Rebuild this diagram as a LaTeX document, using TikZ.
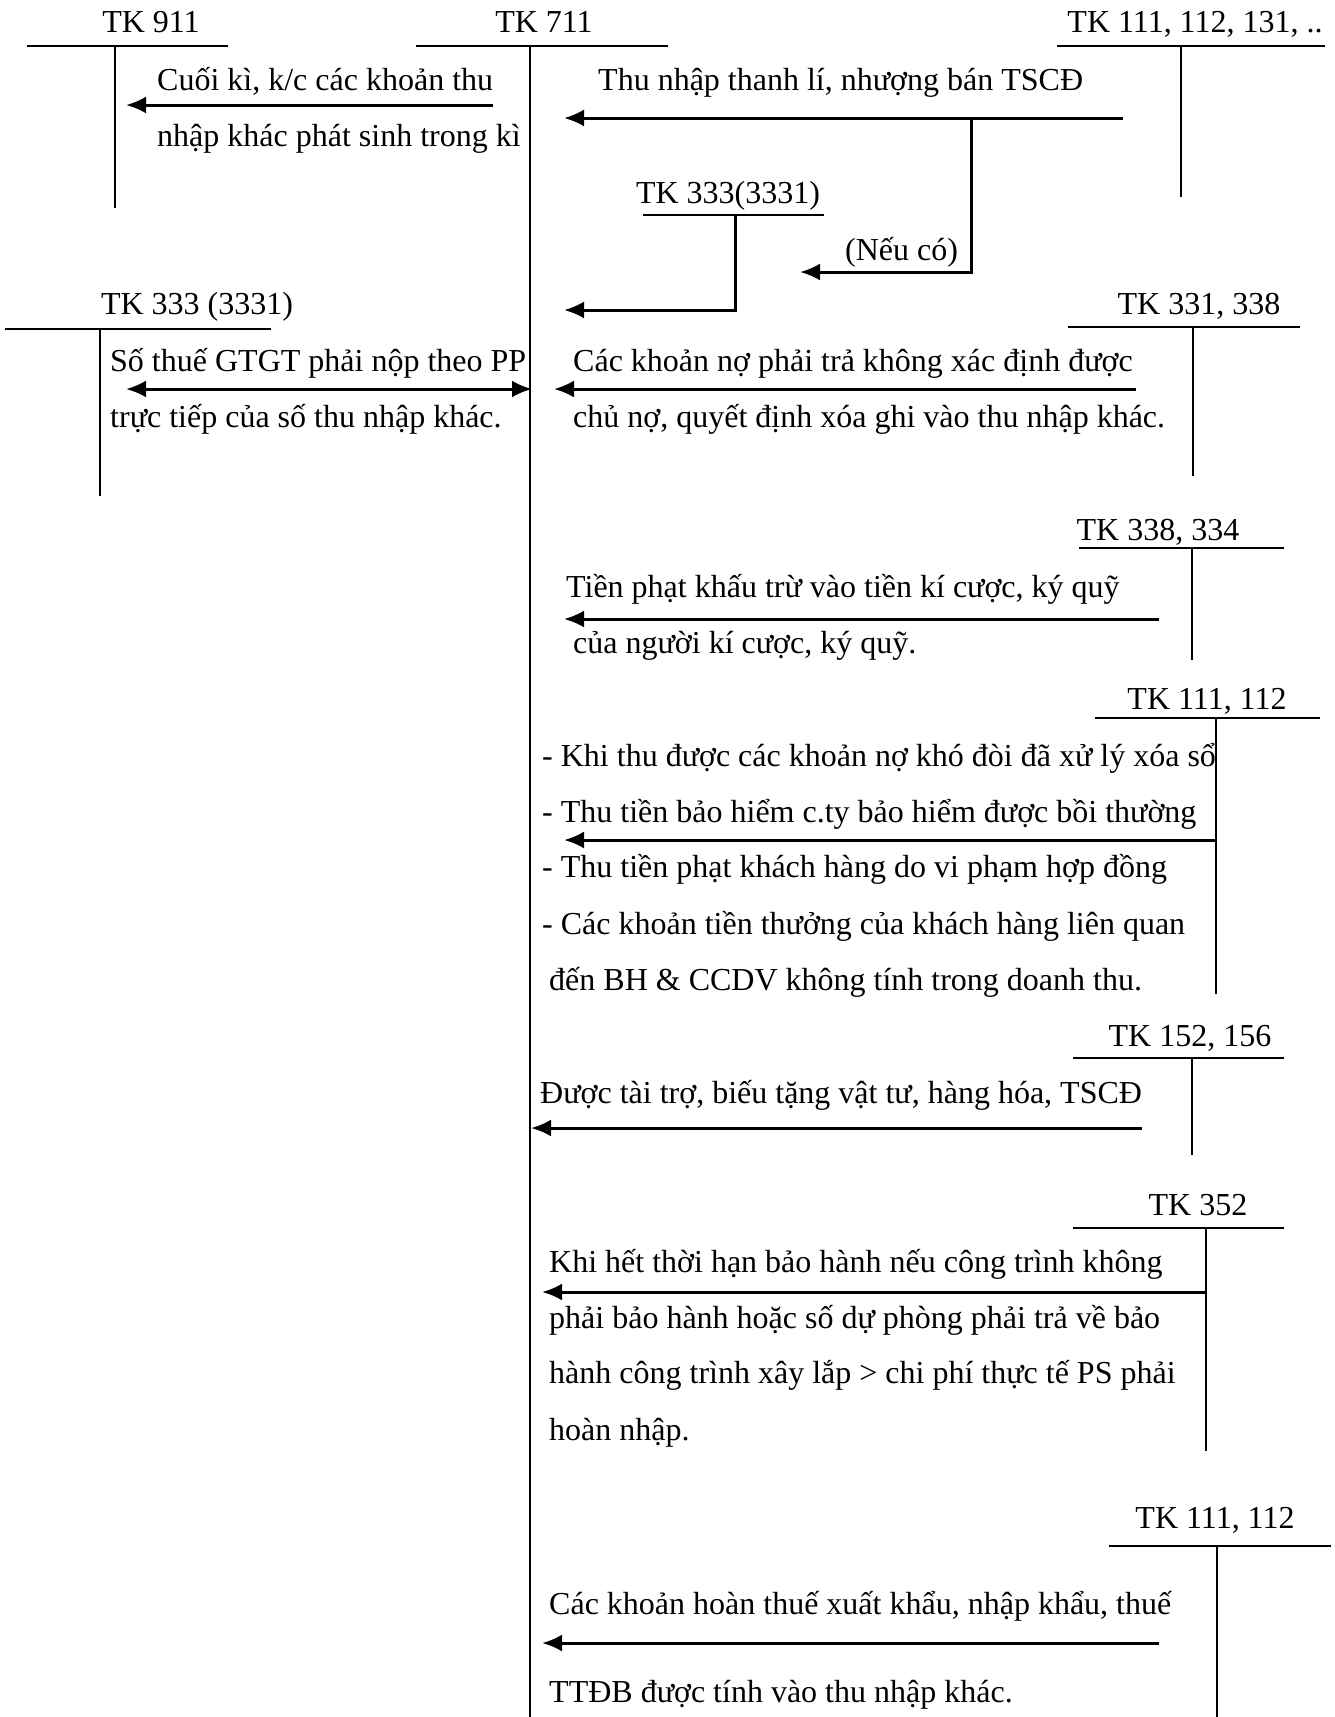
\documentclass[tikz,border=0pt]{standalone}
\usepackage{fontspec}
\setmainfont{Liberation Serif}
\usetikzlibrary{arrows.meta,positioning}

\begin{document}
\begin{tikzpicture}[x=1pt, y=-1pt, font=\fontsize{32}{38}\selectfont,
    acct/.style={line width=1.8pt},
    flow/.style={line width=3pt, -{Latex[length=20pt,width=17pt]}},
    both/.style={line width=3pt, {Latex[length=20pt,width=17pt]}-{Latex[length=20pt,width=17pt]}},
    tklabel/.style={inner sep=0pt, anchor=base},
    txt/.style={inner sep=0pt, anchor=base west}]
  \useasboundingbox (0,0) rectangle (1335,1717);

  % T accounts
  \node[tklabel] (tk911) at (151,32) {TK 911};
  \draw[acct] (27,46) -- (228,46);
  \draw[acct] (115,46) -- (115,208);

  \node[tklabel] (tk711) at (544,32) {TK 711};
  \draw[acct] (416,46) -- (668,46);
  \draw[acct] (530,46) -- (530,1717);

  \node[tklabel] (tk111a) at (1195,32) {TK 111, 112, 131, ..};
  \draw[acct] (1057,46) -- (1325,46);
  \draw[acct] (1181,46) -- (1181,197);

  \node[tklabel] (tk3331a) at (728,203) {TK 333(3331)};
  \draw[acct] (643,215) -- (824,215);

  \node[tklabel] (tk3331b) at (197,314) {TK 333 (3331)};
  \draw[acct] (5,329) -- (271,329);
  \draw[acct] (100,329) -- (100,496);

  \node[tklabel] (tk331) at (1199,314) {TK 331, 338};
  \draw[acct] (1068,327) -- (1300,327);
  \draw[acct] (1193,327) -- (1193,476);

  \node[tklabel] (tk338) at (1158,540) {TK 338, 334};
  \draw[acct] (1079,548) -- (1284,548);
  \draw[acct] (1192,548) -- (1192,660);

  \node[tklabel] (tk111b) at (1207,709) {TK 111, 112};
  \draw[acct] (1095,718) -- (1320,718);
  \draw[acct] (1216,718) -- (1216,994);

  \node[tklabel] (tk152) at (1190,1046) {TK 152, 156};
  \draw[acct] (1073,1058) -- (1284,1058);
  \draw[acct] (1192,1058) -- (1192,1155);

  \node[tklabel] (tk352) at (1198,1215) {TK 352};
  \draw[acct] (1073,1228) -- (1284,1228);
  \draw[acct] (1206,1228) -- (1206,1451);

  \node[tklabel] (tk111c) at (1215,1528) {TK 111, 112};
  \draw[acct] (1109,1546) -- (1331,1546);
  \draw[acct] (1217,1546) -- (1217,1717);

  % arrow end points
  \coordinate (k911s) at (493,105);  \coordinate (k911e) at (126,105);
  \coordinate (tlys) at (1123,118);  \coordinate (tlye) at (564,118);
  \coordinate (tlyb) at (971,118);   \coordinate (tlyc) at (971,272);
  \coordinate (vate) at (800,272);
  \coordinate (v33a) at (735,215);   \coordinate (v33b) at (735,310);
  \coordinate (v33e) at (564,310);
  \coordinate (gtgts) at (126,389);  \coordinate (gtgte) at (532,389);
  \coordinate (nos) at (1136,389);   \coordinate (noe) at (554,389);
  \coordinate (phs) at (1159,619);   \coordinate (phe) at (564,619);
  \coordinate (kds) at (1216,840);   \coordinate (kde) at (564,840);
  \coordinate (tts) at (1142,1128);  \coordinate (tte) at (531,1128);
  \coordinate (bhs) at (1206,1292);  \coordinate (bhe) at (542,1292);
  \coordinate (hts) at (1159,1643);  \coordinate (hte) at (542,1643);

  % flows
  \draw[flow] (k911s) -- (k911e);
  \draw[flow] (tlys) -- (tlye);
  \draw[flow] (tlyb) -- (tlyc) -- (vate);
  \draw[flow] (v33a) -- (v33b) -- (v33e);
  \draw[both] (gtgts) -- (gtgte);
  \draw[flow] (nos) -- (noe);
  \draw[flow] (phs) -- (phe);
  \draw[flow] (kds) -- (kde);
  \draw[flow] (tts) -- (tte);
  \draw[flow] (bhs) -- (bhe);
  \draw[flow] (hts) -- (hte);

  % texts
  \node[txt] (t911a) at (157,90) {Cuối kì, k/c các khoản thu};
  \node[txt] (t911b) at (157,146) {nhập khác phát sinh trong kì};
  \node[txt] (ttly) at (598,90) {Thu nhập thanh lí, nhượng bán TSCĐ};
  \node[txt] (tneu) at (845,260) {(Nếu có)};
  \node[txt] (tgta) at (110,371) {Số thuế GTGT phải nộp theo PP};
  \node[txt] (tgtb) at (110,427) {trực tiếp của số thu nhập khác.};
  \node[txt] (tnoa) at (573,371) {Các khoản nợ phải trả không xác định được};
  \node[txt] (tnob) at (573,427) {chủ nợ, quyết định xóa ghi vào thu nhập khác.};
  \node[txt] (tpha) at (566,597) {Tiền phạt khấu trừ vào tiền kí cược, ký quỹ};
  \node[txt] (tphb) at (573,653) {của người kí cược, ký quỹ.};
  \node[txt] (tkd1) at (542,766) {- Khi thu được các khoản nợ khó đòi đã xử lý xóa sổ};
  \node[txt] (tkd2) at (542,822) {- Thu tiền bảo hiểm c.ty bảo hiểm được bồi thường};
  \node[txt] (tkd3) at (542,877) {- Thu tiền phạt khách hàng do vi phạm hợp đồng};
  \node[txt] (tkd4) at (542,934) {- Các khoản tiền thưởng của khách hàng liên quan};
  \node[txt] (tkd5) at (549,990) {đến BH \& CCDV không tính trong doanh thu.};
  \node[txt] (ttt) at (540,1103) {Được tài trợ, biếu tặng vật tư, hàng hóa, TSCĐ};
  \node[txt] (tbh1) at (549,1272) {Khi hết thời hạn bảo hành nếu công trình không};
  \node[txt] (tbh2) at (549,1328) {phải bảo hành hoặc số dự phòng phải trả về bảo};
  \node[txt] (tbh3) at (549,1383) {hành công trình xây lắp > chi phí thực tế PS phải};
  \node[txt] (tbh4) at (549,1440) {hoàn nhập.};
  \node[txt] (tht1) at (549,1614) {Các khoản hoàn thuế xuất khẩu, nhập khẩu, thuế};
  \node[txt] (tht2) at (549,1702) {TTĐB được tính vào thu nhập khác.};
\end{tikzpicture}
\end{document}
